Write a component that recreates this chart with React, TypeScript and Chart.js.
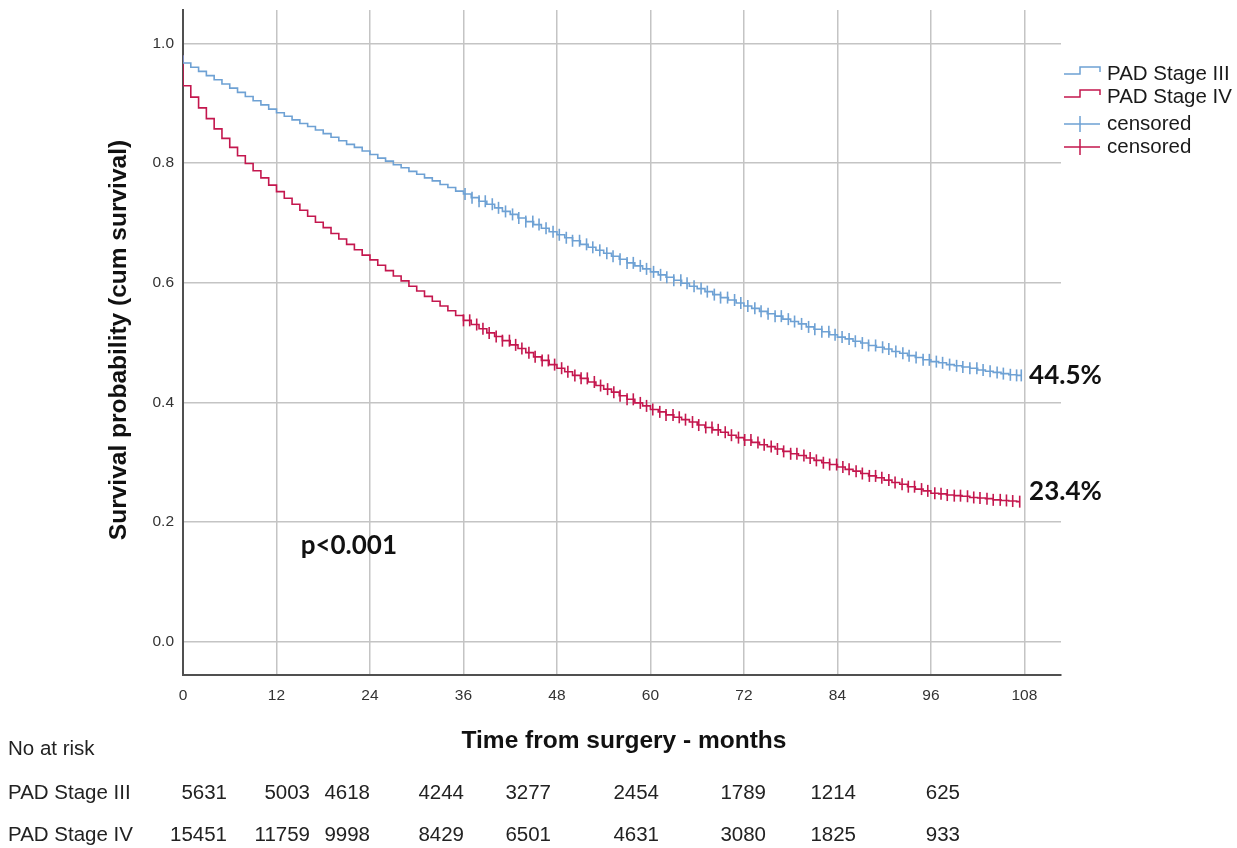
import React, { useEffect, useRef } from 'react';
import { Chart, registerables } from 'chart.js';

Chart.register(...registerables);

// ---------- DATA ----------
const eventMonths = [
  0, 1, 2, 3, 4, 5, 6, 7, 8, 9, 10, 11, 12, 13, 14, 15, 16, 17, 18, 19, 20, 21, 22, 23, 24,
  25, 26, 27, 28, 29, 30, 31, 32, 33, 34, 35, 36, 37, 38, 39, 40, 41, 42, 43, 44, 45, 46, 47, 48,
  49, 50, 51, 52, 53, 54, 55, 56, 57, 58, 59, 60, 61, 62, 63, 64, 65, 66, 67, 68, 69, 70, 71, 72,
  73, 74, 75, 76, 77, 78, 79, 80, 81, 82, 83, 84, 85, 86, 87, 88, 89, 90, 91, 92, 93, 94, 95, 96,
  97, 98, 99, 100, 101, 102, 103, 104, 105, 106, 107,
];

const startValue = 0.98;

const stageIII = [
  0.967, 0.960, 0.953, 0.946, 0.939, 0.932, 0.925, 0.918, 0.911, 0.904, 0.897, 0.890, 0.884,
  0.878, 0.872, 0.866, 0.861, 0.855, 0.849, 0.843, 0.837, 0.831, 0.826, 0.820, 0.814,
  0.808, 0.803, 0.797, 0.792, 0.786, 0.781, 0.775, 0.770, 0.764, 0.759, 0.753, 0.748,
  0.742, 0.736, 0.731, 0.725, 0.719, 0.714, 0.708, 0.702, 0.697, 0.691, 0.685, 0.680,
  0.675, 0.670, 0.664, 0.659, 0.654, 0.649, 0.644, 0.639, 0.633, 0.628, 0.623, 0.618,
  0.613, 0.609, 0.604, 0.599, 0.594, 0.590, 0.585, 0.580, 0.575, 0.571, 0.566, 0.561,
  0.557, 0.552, 0.548, 0.544, 0.539, 0.535, 0.531, 0.526, 0.522, 0.518, 0.513, 0.509,
  0.506, 0.502, 0.499, 0.495, 0.492, 0.489, 0.485, 0.482, 0.478, 0.475, 0.471, 0.468,
  0.466, 0.463, 0.461, 0.459, 0.457, 0.454, 0.452, 0.450, 0.448, 0.446, 0.445,
];

const stageIV = [
  0.929, 0.910, 0.892, 0.874, 0.857, 0.841, 0.826, 0.812, 0.799, 0.787, 0.775, 0.763, 0.752,
  0.741, 0.731, 0.721, 0.711, 0.701, 0.692, 0.682, 0.673, 0.664, 0.655, 0.646, 0.638,
  0.629, 0.620, 0.611, 0.603, 0.594, 0.586, 0.577, 0.569, 0.561, 0.553, 0.545, 0.537,
  0.530, 0.523, 0.516, 0.510, 0.503, 0.496, 0.490, 0.483, 0.476, 0.470, 0.463, 0.457,
  0.451, 0.445, 0.440, 0.434, 0.428, 0.422, 0.417, 0.411, 0.405, 0.399, 0.394, 0.388,
  0.384, 0.379, 0.375, 0.371, 0.367, 0.362, 0.358, 0.354, 0.350, 0.345, 0.341, 0.337,
  0.333, 0.329, 0.326, 0.322, 0.318, 0.314, 0.311, 0.307, 0.303, 0.299, 0.296, 0.292,
  0.288, 0.285, 0.281, 0.277, 0.274, 0.270, 0.266, 0.263, 0.259, 0.255, 0.252, 0.248,
  0.247, 0.245, 0.244, 0.243, 0.241, 0.240, 0.239, 0.237, 0.236, 0.235, 0.234,
];

const censorIII = [
  36.2, 37.1, 38.0, 38.8, 39.7, 40.5, 41.4, 42.3, 43.1, 44.0, 44.9, 45.7, 46.6, 47.5, 48.3,
  49.2, 50.0, 50.9, 51.8, 52.6, 53.5, 54.4, 55.2, 56.1, 57.0, 57.8, 58.7, 59.5, 60.4, 61.3,
  62.1, 63.0, 63.9, 64.7, 65.6, 66.5, 67.3, 68.2, 69.0, 69.9, 70.8, 71.6, 72.5, 73.4, 74.2,
  75.1, 76.0, 76.8, 77.7, 78.5, 79.4, 80.3, 81.1, 82.0, 82.9, 83.7, 84.6, 85.5, 86.3, 87.2,
  88.0, 88.9, 89.8, 90.6, 91.5, 92.4, 93.2, 94.1, 95.0, 95.8, 96.7, 97.5, 98.4, 99.3, 100.1,
  101.0, 101.9, 102.7, 103.6, 104.5, 105.3, 106.2, 107.0, 107.6,
];

const censorIV = [
  36.0, 36.8, 37.7, 38.5, 39.3, 40.2, 41.0, 41.9, 42.7, 43.5, 44.4, 45.2, 46.1, 46.9, 47.7,
  48.6, 49.4, 50.3, 51.1, 51.9, 52.8, 53.6, 54.5, 55.3, 56.1, 57.0, 57.8, 58.7, 59.5, 60.3,
  61.2, 62.0, 62.9, 63.7, 64.5, 65.4, 66.2, 67.1, 67.9, 68.7, 69.6, 70.4, 71.3, 72.1, 72.9,
  73.8, 74.6, 75.5, 76.3, 77.1, 78.0, 78.8, 79.7, 80.5, 81.3, 82.2, 83.0, 83.9, 84.7, 85.5,
  86.4, 87.2, 88.1, 88.9, 89.7, 90.6, 91.4, 92.3, 93.1, 93.9, 94.8, 95.6, 96.5, 97.3, 98.1,
  99.0, 99.8, 100.7, 101.5, 102.3, 103.2, 104.0, 104.9, 105.7, 106.5, 107.4,
];

const xTickValues = [0, 12, 24, 36, 48, 60, 72, 84, 96, 108];
const yTickValues = [0, 0.2, 0.4, 0.6, 0.8, 1.0];

const seriesNames = ['PAD Stage III', 'PAD Stage IV'];
const legendLabels = ['PAD Stage III', 'PAD Stage IV', 'censored', 'censored'];
const finalLabels = ['44.5%', '23.4%'];
const pValueText = 'p<0.001';
const xTitle = 'Time from surgery - months';
const yTitle = 'Survival probability (cum survival)';
const riskTitle = 'No at risk';
const riskIII = [5631, 5003, 4618, 4244, 3277, 2454, 1789, 1214, 625];
const riskIV = [15451, 11759, 9998, 8429, 6501, 4631, 3080, 1825, 933];

// ---------- LAYOUT / STYLE ----------
const W = 1237;
const H = 848;
const BLUE = '#6ea1d4';
const RED = '#c4174e';
const GRID = '#c4c4c4';
const AXIS = '#505050';
const SANS = '"Liberation Sans", Arial, sans-serif';
const CAL = 'Lato, "Open Sans", sans-serif';

const layout = {
  plotLeft: 183,
  plotRight: 1061,
  plotTop: 10,
  plotBottom: 675,
  xMax: 112.7,
  yMin: -0.0557,
  yMax: 1.0556,
  yTitleX: 119,
  yTitleY: 340,
  xTitleX: 624,
  xTitleY: 741,
  legendX: 1064,
  legendRowsY: [74, 97, 124, 147],
  labelValueY: [0.445, 0.251],
  labelMonth: 108.6,
  pMonth: 15.1,
  pValueY: 0.16,
  riskLabelX: 8,
  riskTitleY: 749,
  riskRowsY: [793, 835],
  riskColRight: [227, 310, 370, 464, 551, 659, 766, 856, 960],
};

function valueAt(vals: number[], t: number): number {
  let v = vals[0];
  for (let i = 0; i < eventMonths.length; i++) {
    if (eventMonths[i] <= t) v = vals[i];
  }
  return v;
}

function stepData(vals: number[], censors: number[]) {
  const pts = [{ x: 0, y: startValue }];
  eventMonths.forEach((m, i) => pts.push({ x: m, y: vals[i] }));
  pts.push({ x: censors[censors.length - 1], y: vals[vals.length - 1] });
  return pts;
}

function censorData(vals: number[], censors: number[]) {
  return censors.map((t) => ({ x: t, y: valueAt(vals, t) }));
}

const overlayPlugin = {
  id: 'kmOverlay',
  afterDraw(chart: any) {
    const ctx: CanvasRenderingContext2D = chart.ctx;
    const xs = chart.scales.x;
    const ys = chart.scales.y;
    ctx.save();

    // Y title
    ctx.save();
    ctx.translate(layout.yTitleX, layout.yTitleY);
    ctx.rotate(-Math.PI / 2);
    ctx.font = `bold 24.5px ${SANS}`;
    ctx.fillStyle = '#111';
    ctx.textAlign = 'center';
    ctx.textBaseline = 'middle';
    ctx.fillText(yTitle, 0, 0);
    ctx.restore();

    // X title
    ctx.font = `bold 24.5px ${SANS}`;
    ctx.fillStyle = '#111';
    ctx.textAlign = 'center';
    ctx.textBaseline = 'middle';
    ctx.fillText(xTitle, layout.xTitleX, layout.xTitleY);

    // Legend
    const colors = [BLUE, RED, BLUE, RED];
    ctx.lineWidth = 1.5;
    legendLabels.forEach((lab, i) => {
      const y = layout.legendRowsY[i];
      const x0 = layout.legendX;
      ctx.strokeStyle = colors[i];
      ctx.beginPath();
      if (i < 2) {
        ctx.moveTo(x0, y);
        ctx.lineTo(x0 + 16, y);
        ctx.lineTo(x0 + 16, y - 7);
        ctx.lineTo(x0 + 36, y - 7);
        ctx.lineTo(x0 + 36, y - 2);
      } else {
        ctx.moveTo(x0, y);
        ctx.lineTo(x0 + 36, y);
        ctx.moveTo(x0 + 16, y - 8);
        ctx.lineTo(x0 + 16, y + 8);
      }
      ctx.stroke();
      ctx.font = `20.5px ${SANS}`;
      ctx.fillStyle = '#1a1a1a';
      ctx.textAlign = 'left';
      ctx.textBaseline = 'middle';
      ctx.fillText(lab, x0 + 43, y);
    });

    // Final survival labels & p-value
    ctx.font = `bold 26px ${CAL}`;
    ctx.fillStyle = '#111';
    ctx.textAlign = 'left';
    ctx.textBaseline = 'middle';
    finalLabels.forEach((lab, i) => {
      ctx.fillText(lab, xs.getPixelForValue(layout.labelMonth), ys.getPixelForValue(layout.labelValueY[i]));
    });
    ctx.fillText(pValueText, xs.getPixelForValue(layout.pMonth), ys.getPixelForValue(layout.pValueY));

    // Risk table
    ctx.font = `20.5px ${SANS}`;
    ctx.fillStyle = '#222';
    ctx.textBaseline = 'middle';
    ctx.textAlign = 'left';
    ctx.fillText(riskTitle, layout.riskLabelX, layout.riskTitleY);
    [riskIII, riskIV].forEach((row, r) => {
      const y = layout.riskRowsY[r];
      ctx.textAlign = 'left';
      ctx.fillText(seriesNames[r], layout.riskLabelX, y);
      ctx.textAlign = 'right';
      row.forEach((v, c) => ctx.fillText(String(v), layout.riskColRight[c], y));
    });

    ctx.restore();
  },
};

export default function App() {
  const ref = useRef<HTMLCanvasElement | null>(null);

  useEffect(() => {
    if (!ref.current) return;
    const chart = new Chart(ref.current, {
      type: 'line',
      data: {
        datasets: [
          {
            label: seriesNames[0],
            data: stepData(stageIII, censorIII),
            borderColor: BLUE,
            borderWidth: 1.6,
            stepped: true,
            pointRadius: 0,
            fill: false,
          },
          {
            label: seriesNames[1],
            data: stepData(stageIV, censorIV),
            borderColor: RED,
            borderWidth: 1.6,
            stepped: true,
            pointRadius: 0,
            fill: false,
          },
          {
            label: 'censored',
            data: censorData(stageIII, censorIII),
            showLine: false,
            pointStyle: 'line',
            pointRotation: 90,
            pointRadius: 6,
            pointBorderWidth: 1.6,
            pointBorderColor: BLUE,
            pointBackgroundColor: BLUE,
            borderColor: BLUE,
          },
          {
            label: 'censored',
            data: censorData(stageIV, censorIV),
            showLine: false,
            pointStyle: 'line',
            pointRotation: 90,
            pointRadius: 6,
            pointBorderWidth: 1.6,
            pointBorderColor: RED,
            pointBackgroundColor: RED,
            borderColor: RED,
          },
        ] as any,
      },
      options: {
        animation: false,
        responsive: false,
        maintainAspectRatio: false,
        layout: {
          padding: { left: 0, right: W - layout.plotRight, top: layout.plotTop, bottom: 0 },
        },
        plugins: {
          legend: { display: false },
          tooltip: { enabled: false },
        },
        scales: {
          x: {
            type: 'linear',
            min: 0,
            max: layout.xMax,
            afterBuildTicks: (s: any) => {
              s.ticks = xTickValues.map((v) => ({ value: v }));
            },
            afterFit: (s: any) => {
              s.height = H - layout.plotBottom;
              s.paddingLeft = 0;
              s.paddingRight = 0;
              s.paddingTop = 0;
              s.paddingBottom = 0;
            },
            grid: { color: GRID, lineWidth: 1.5, drawTicks: false },
            border: { color: AXIS, width: 2 },
            ticks: {
              padding: 11,
              color: '#333',
              font: { family: SANS, size: 15.5 },
              maxRotation: 0,
              callback: (v: any) => String(v),
            },
          },
          y: {
            type: 'linear',
            min: layout.yMin,
            max: layout.yMax,
            afterBuildTicks: (s: any) => {
              s.ticks = yTickValues.map((v) => ({ value: v }));
            },
            afterFit: (s: any) => {
              s.width = layout.plotLeft;
              s.paddingLeft = 0;
              s.paddingRight = 0;
              s.paddingTop = 0;
              s.paddingBottom = 0;
            },
            grid: { color: GRID, lineWidth: 1.5, drawTicks: false },
            border: { color: AXIS, width: 2 },
            ticks: {
              padding: 9,
              color: '#333',
              font: { family: SANS, size: 15.5 },
              callback: (v: any) => Number(v).toFixed(1),
            },
          },
        },
      } as any,
      plugins: [overlayPlugin],
    });
    return () => chart.destroy();
  }, []);

  return (
    <div style={{ position: 'absolute', left: 0, top: 0, width: W, height: H, background: '#fff' }}>
      <canvas ref={ref} width={W} height={H} style={{ width: W, height: H, display: 'block' }} />
    </div>
  );
}
